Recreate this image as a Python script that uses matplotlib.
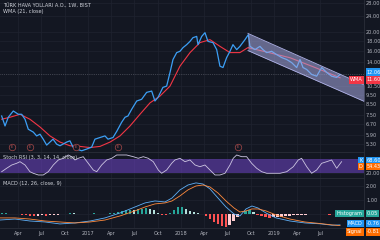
import numpy as np
import matplotlib
matplotlib.use("Agg")
import matplotlib.pyplot as plt
from matplotlib.ticker import FuncFormatter, NullLocator

# weekly chart, x in decimal years
price_t = [2016.072, 2016.108, 2016.143, 2016.197, 2016.251, 2016.287, 2016.323, 2016.358, 2016.412, 2016.448,
           2016.484, 2016.519, 2016.556, 2016.591, 2016.624, 2016.663, 2016.699, 2016.731, 2016.771, 2016.806,
           2016.839, 2016.878, 2016.932, 2016.986, 2017.040, 2017.075, 2017.129, 2017.183, 2017.215, 2017.269,
           2017.309, 2017.362, 2017.398, 2017.430, 2017.470, 2017.524, 2017.577, 2017.631, 2017.685, 2017.720,
           2017.753, 2017.806, 2017.846, 2017.882, 2017.914, 2017.954, 2017.989, 2018.022, 2018.061, 2018.097,
           2018.129, 2018.169, 2018.183, 2018.223, 2018.258, 2018.290, 2018.344, 2018.384, 2018.419, 2018.452,
           2018.491, 2018.527, 2018.559, 2018.599, 2018.634, 2018.688, 2018.724, 2018.742, 2018.796, 2018.849,
           2018.882, 2018.922, 2018.975, 2019.029, 2019.083, 2019.137, 2019.190, 2019.244, 2019.280, 2019.312,
           2019.352, 2019.405, 2019.459, 2019.513, 2019.567, 2019.620, 2019.674, 2019.710]
price_v = [7.38, 6.56, 7.27, 7.83, 7.53, 7.53, 7.10, 6.31, 6.10, 5.83,
           5.95, 5.61, 5.23, 5.42, 5.61, 5.29, 5.19, 5.29, 5.42, 5.50,
           5.11, 4.99, 4.89, 4.99, 5.11, 5.61, 5.72, 5.83, 5.61, 5.72,
           6.15, 6.85, 7.27, 7.38, 7.99, 8.81, 8.99, 9.76, 9.91, 8.81,
           9.20, 10.35, 10.51, 12.35, 14.39, 15.62, 15.86, 16.57, 17.16, 17.84,
           18.64, 18.92, 17.16, 18.92, 19.77, 17.84, 17.58, 16.18, 13.30, 13.09,
           14.73, 15.86, 17.16, 16.18, 16.82, 18.20, 19.31, 16.82, 16.18, 16.82,
           16.18, 15.62, 15.86, 15.25, 14.73, 14.39, 13.88, 13.09, 14.39, 13.09,
           12.79, 12.06, 11.82, 13.09, 12.35, 11.82, 11.64, 12.06]

wma_t = [2016.072, 2016.161, 2016.269, 2016.376, 2016.484, 2016.591, 2016.699, 2016.806, 2016.914, 2017.022,
         2017.129, 2017.237, 2017.344, 2017.452, 2017.559, 2017.667, 2017.774, 2017.882, 2017.989, 2018.097,
         2018.204, 2018.312, 2018.419, 2018.527, 2018.634, 2018.720, 2018.903, 2019.172, 2019.441, 2019.710]
wma_v = [7.10, 7.27, 7.53, 7.10, 6.48, 5.83, 5.42, 5.19, 5.15, 5.08,
         5.15, 5.42, 5.83, 6.56, 7.53, 8.62, 9.34, 10.51, 13.30, 15.62,
         17.58, 18.20, 16.82, 15.62, 15.62, 16.57, 15.80, 14.70, 13.10, 11.60]

# parallel channel drawn on the chart
channel_t = [2018.72, 2019.968]
channel_upper = [19.6, 10.66]
channel_lower = [16.0, 8.78]

event_t = [2016.183, 2016.376, 2016.871, 2017.323, 2018.613]

stoch_t = [2016.072, 2016.125, 2016.180, 2016.233, 2016.269, 2016.323, 2016.376, 2016.412, 2016.466, 2016.519,
           2016.573, 2016.627, 2016.681, 2016.734, 2016.788, 2016.825, 2016.860, 2016.896, 2016.949, 2017.003,
           2017.057, 2017.094, 2017.147, 2017.201, 2017.255, 2017.309, 2017.362, 2017.416, 2017.487, 2017.541,
           2017.595, 2017.648, 2017.702, 2017.756, 2017.792, 2017.846, 2017.900, 2017.935, 2017.989, 2018.043,
           2018.097, 2018.151, 2018.204, 2018.258, 2018.312, 2018.366, 2018.419, 2018.473, 2018.527, 2018.562,
           2018.599, 2018.653, 2018.706, 2018.760, 2018.814, 2018.868, 2018.922, 2018.992, 2019.065, 2019.137,
           2019.208, 2019.261, 2019.297, 2019.352, 2019.405, 2019.459, 2019.513, 2019.567, 2019.620, 2019.674,
           2019.727]
stoch_k = [25.7, 40.3, 54.4, 61.7, 68.6, 54.4, 25.7, 18.9, 11.6, 11.6,
           25.7, 54.4, 75.9, 83.1, 97.3, 90.0, 75.9, 83.1, 90.0, 61.7,
           33.0, 25.7, 54.4, 75.9, 83.1, 97.3, 97.3, 97.3, 90.0, 83.1,
           90.0, 83.1, 68.6, 33.0, 18.9, 33.0, 61.7, 75.9, 83.1, 68.6,
           75.9, 54.4, 47.1, 54.4, 33.0, 11.6, 11.6, 18.9, 54.4, 83.1,
           97.3, 90.0, 90.0, 61.7, 40.3, 25.7, 18.9, 18.9, 18.9, 25.7,
           47.1, 75.9, 83.1, 47.1, 18.9, 33.0, 61.7, 68.6, 75.9, 40.3,
           68.6]
stoch_d_last = 54.43

macd_t = [2016.054, 2016.215, 2016.376, 2016.538, 2016.699, 2016.860, 2017.022, 2017.183, 2017.344, 2017.505,
          2017.613, 2017.720, 2017.828, 2017.903, 2017.989, 2018.075, 2018.161, 2018.237, 2018.312, 2018.398,
          2018.484, 2018.570, 2018.634, 2018.699, 2018.763, 2018.828, 2018.914, 2019.022, 2019.172, 2019.333,
          2019.495, 2019.624, 2019.710]
macd_v = [-0.41, -0.34, -0.48, -0.55, -0.69, -0.62, -0.48, -0.26, 0.09, 0.52,
          0.81, 0.95, 0.88, 1.16, 1.74, 2.09, 2.24, 2.16, 1.81, 1.16,
          0.52, 0.02, -0.12, 0.38, 0.59, 0.45, 0.09, -0.26, -0.48, -0.62,
          -0.68, -0.78, -0.76]
signal_v = [-0.26, -0.26, -0.34, -0.48, -0.55, -0.62, -0.55, -0.41, -0.12, 0.24,
            0.52, 0.74, 0.81, 0.95, 1.31, 1.74, 2.02, 2.09, 1.95, 1.52,
            0.95, 0.45, 0.16, 0.24, 0.38, 0.38, 0.24, -0.05, -0.34, -0.55,
            -0.66, -0.76, -0.81]
hist_v = [0.10, 0.12, 0.05, 0.02, 0.00, -0.05, -0.08, -0.10, -0.12, -0.10,
          -0.08, -0.10, -0.06, -0.03, -0.02, 0.02, 0.05, 0.08, 0.06, 0.04,
          0.02, 0.03, 0.04, 0.06, 0.05, 0.03, 0.04, 0.08, 0.12, 0.18,
          0.22, 0.28, 0.32, 0.30, 0.35, 0.40, 0.42, 0.38, 0.30, 0.10,
          -0.05, -0.08, 0.10, 0.30, 0.50, 0.52, 0.40, 0.25, 0.15, 0.08,
          0.02, -0.15, -0.35, -0.55, -0.70, -0.85, -0.90, -0.75, -0.45, -0.20,
          0.05, 0.25, 0.30, 0.15, -0.05, -0.15, -0.22, -0.25, -0.22, -0.20,
          -0.18, -0.15, -0.12, -0.08, -0.05, -0.03, -0.02, 0.00, 0.02, 0.02,
          0.01, 0.02, -0.02, 0.03, 0.05]
hist_t = 2016.075 + 0.043 * np.arange(len(hist_v))

tick_pos = [2016.25, 2016.5, 2016.75, 2017, 2017.25, 2017.5, 2017.75, 2018,
            2018.25, 2018.5, 2018.75, 2019, 2019.25, 2019.5]
tick_lab = ["Apr", "Jul", "Oct", "2017", "Apr", "Jul", "Oct", "2018",
            "Apr", "Jul", "Oct", "2019", "Apr", "Jul"]
price_ticks = [5.3, 5.9, 6.7, 7.5, 8.5, 9.5, 10.5, 14, 16, 18, 20, 24, 28]

BG = "#131722"
GRID = "#1f2330"
TXT = "#b2b5be"
FS = 3.6

fig = plt.figure(figsize=(3.8, 2.4), dpi=100, facecolor=BG)
W = 364 / 380
ax_p = fig.add_axes([0, 88 / 240, W, 152 / 240])
ax_s = fig.add_axes([0, 62 / 240, W, 26 / 240], sharex=ax_p)
ax_m = fig.add_axes([0, 12 / 240, W, 50 / 240], sharex=ax_p)

for ax in (ax_p, ax_s, ax_m):
    ax.set_facecolor(BG)
    for s in ax.spines.values():
        s.set_color("#2a2e39")
        s.set_linewidth(0.6)
    ax.spines["left"].set_visible(False)
    ax.grid(color=GRID, lw=0.5)
    ax.set_axisbelow(True)
    ax.tick_params(axis="y", left=False, right=True, labelleft=False, labelright=True,
                   length=0, pad=1.5, labelsize=FS, colors=TXT)
    ax.tick_params(axis="x", length=0, labelbottom=False)
ax_p.spines["top"].set_visible(False)

# price panel
ax_p.set_yscale("log")
ax_p.set_ylim(4.82, 29.1)
ax_p.set_yticks(price_ticks)
ax_p.yaxis.set_minor_locator(NullLocator())
ax_p.yaxis.set_major_formatter(FuncFormatter(lambda v, _: f"{v:.2f}"))
ax_p.set_xlim(2016.054, 2019.968)
ax_p.set_xticks(tick_pos)

ax_p.axhline(price_v[-1], color="#6a6d78", lw=0.5, ls=":", zorder=1)
ax_p.plot(wma_t, wma_v, color="#f23645", lw=0.8, zorder=2)
ax_p.plot(price_t, price_v, color="#3c9ff5", lw=0.9, zorder=3)
ax_p.fill_between(channel_t, channel_lower, channel_upper, color="#a7aae2", alpha=0.55, lw=0, zorder=4)
ax_p.plot(channel_t, channel_upper, color="#b0b3e8", lw=0.6, zorder=4)
ax_p.plot(channel_t, channel_lower, color="#b0b3e8", lw=0.6, zorder=4)

ax_p.scatter(event_t, [0.033] * len(event_t), transform=ax_p.get_xaxis_transform(),
             s=22, facecolor=BG, edgecolor="#a84a4a", lw=0.5, zorder=5)
for t in event_t:
    ax_p.text(t, 0.033, "E", transform=ax_p.get_xaxis_transform(), fontsize=2.3,
              color="#c65a5a", ha="center", va="center", zorder=6)

ax_p.text(0.008, 0.962, "TÜRK HAVA YOLLARI A.O., 1W, BIST", transform=ax_p.transAxes,
          fontsize=FS, color="#d1d4dc", va="center")
ax_p.text(0.008, 0.925, "WMA (21, close)", transform=ax_p.transAxes,
          fontsize=FS, color="#d1d4dc", va="center")


def badge(ax, y, text, fc, inside=None, dy=0):
    tr = ax.get_yaxis_transform()
    ax.annotate(text, (1.0, y), xycoords=tr, xytext=(2, dy), textcoords="offset points",
                fontsize=FS, color="white", ha="left", va="center", annotation_clip=False,
                bbox=dict(boxstyle="square,pad=0.25", fc=fc, ec="none"), zorder=10)
    if inside:
        ax.annotate(inside, (1.0, y), xycoords=tr, xytext=(-1, dy), textcoords="offset points",
                    fontsize=FS, color="white", ha="right", va="center", annotation_clip=False,
                    bbox=dict(boxstyle="square,pad=0.25", fc=fc, ec="none"), zorder=10)


badge(ax_p, price_v[-1], f"{price_v[-1]:.2f}", "#2196f3", dy=1.6)
badge(ax_p, wma_v[-1], f"{wma_v[-1]:.2f}", "#f23645", inside="WMA", dy=-1.6)

# stoch rsi panel
ax_s.set_ylim(-1.3, 110.1)
ax_s.set_yticks([20, 80])
ax_s.yaxis.set_major_formatter(FuncFormatter(lambda v, _: f"{v:.2f}"))
ax_s.axhspan(20, 80, color="#6f45c8", alpha=0.55, lw=0)
ax_s.plot(stoch_t, stoch_k, color="#cdc6e2", lw=0.6)
ax_s.text(0.008, 0.80, "Stoch RSI (3, 3, 14, 14, close)", transform=ax_s.transAxes,
          fontsize=FS, color="#d1d4dc", va="center")
badge(ax_s, stoch_k[-1], f"{stoch_k[-1]:.2f}", "#2196f3", inside="K", dy=1)
badge(ax_s, stoch_d_last, f"{stoch_d_last:.2f}", "#ff6d00", inside="D", dy=-1)

# macd panel
ax_m.set_ylim(-0.98, 2.59)
ax_m.set_yticks([0, 1, 2])
ax_m.yaxis.set_major_formatter(FuncFormatter(lambda v, _: f"{v:.2f}"))
cols = []
for i, h in enumerate(hist_v):
    prev = hist_v[i - 1] if i else h
    if h >= 0:
        cols.append("#26a69a" if h >= prev else "#b2dfdb")
    else:
        cols.append("#ffcdd2" if h >= prev else "#ff5252")
ax_m.bar(hist_t, hist_v, width=0.03, color=cols, lw=0, zorder=2)
ax_m.plot(macd_t, macd_v, color="#5fb0f7", lw=0.6, zorder=3)
ax_m.plot(macd_t, signal_v, color="#ff8a3d", lw=0.6, zorder=3)
ax_m.text(0.008, 0.90, "MACD (12, 26, close, 9)", transform=ax_m.transAxes,
          fontsize=FS, color="#d1d4dc", va="center")
badge(ax_m, hist_v[-1], f"{hist_v[-1]:.2f}", "#26a69a", inside="Histogram")
badge(ax_m, macd_v[-1], f"{macd_v[-1]:.2f}", "#2196f3", inside="MACD", dy=1)
badge(ax_m, signal_v[-1], f"{signal_v[-1]:.2f}", "#ff6d00", inside="Signal", dy=-4.5)

ax_m.tick_params(axis="x", labelbottom=True, labelsize=FS, colors=TXT, pad=2.5)
ax_m.set_xticklabels(tick_lab)

fig.savefig("out.png", dpi=100, facecolor=BG)
